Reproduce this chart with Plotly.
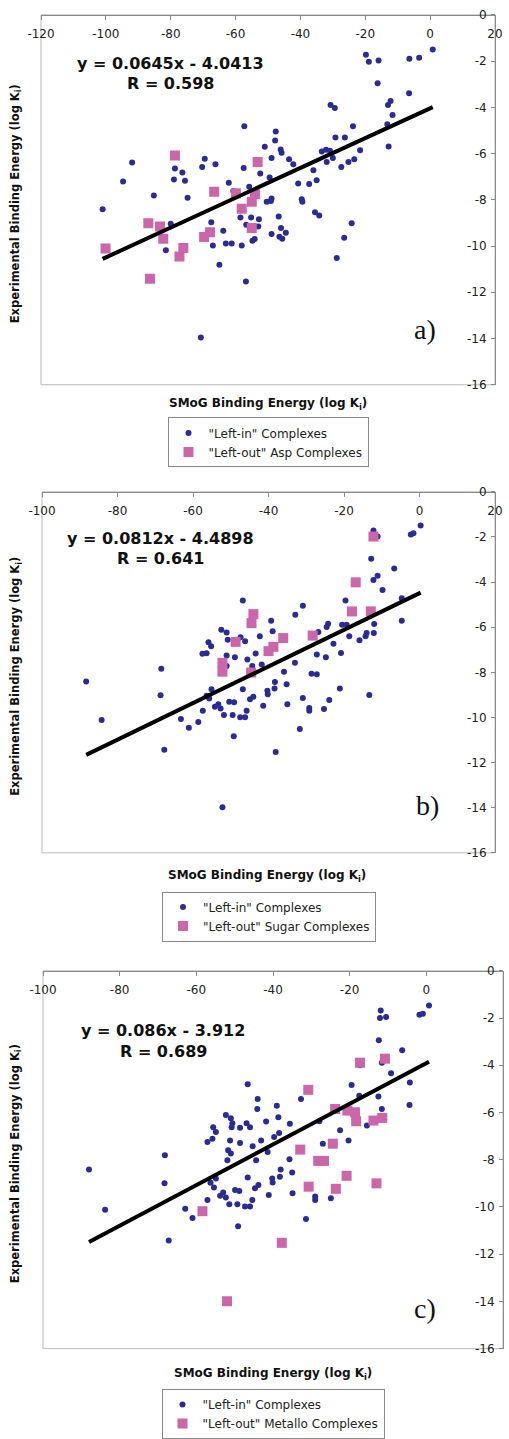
import plotly.graph_objects as go

# ---------------- data ----------------
# Panel a
a_in_x = [0.8, -3.4, -6.4, -19.8, -18.9, -15.9, -16.2, -6.5, -30.7, -29.4, -12.2, -13.0, -11.6, -13.2, -23.8, -12.8,
          -29.2, -26.3, -21.6, -57.3, -47.6, -47.8, -51.0, -46.1, -45.8, -33.4, -32.1, -30.9, -30.0, -31.9, -25.2, -23.4,
          -27.4, -43.5, -42.2, -48.9, -49.5, -52.4, -57.5, -36.0, -35.0, -37.3, -40.7, -62.1, -55.8, -69.5, -66.2, -70.3,
          -78.7, -76.4, -79.0, -75.6, -91.9, -94.7, -85.2, -74.8, -60.7, -48.9, -39.6,
          -101.0, -80.0, -81.5, -67.5, -67.0, -63.8, -63.0, -61.2, -65.0, -58.1, -58.5, -56.7, -55.2, -52.8, -53.0, -54.8,
          -54.1, -56.8, -70.7, -46.7, -48.9, -46.0, -45.6, -44.5, -46.5, -50.4, -49.1, -39.4, -35.5, -34.2, -24.2, -26.5, -28.8]
a_in_y = [-1.50, -1.86, -1.90, -1.72, -2.03, -1.97, -2.96, -3.39, -3.90, -4.03, -3.73, -3.90, -4.33, -4.73, -4.82, -5.69,
          -5.30, -5.30, -5.86, -4.82, -5.05, -5.43, -5.71, -5.82, -5.96, -5.91, -5.83, -5.88, -6.19, -6.36, -6.36, -6.25,
          -6.58, -6.25, -6.46, -6.19, -7.04, -6.86, -6.62, -6.72, -7.15, -7.32, -7.29, -7.26, -7.43, -6.22, -6.46, -6.58,
          -6.65, -6.82, -7.12, -7.18, -6.39, -7.21, -7.81, -7.91, -7.62, -7.94, -7.98,
          -8.41, -9.04, -10.18, -8.97, -9.98, -9.34, -9.89, -9.89, -10.81, -9.98, -8.77, -9.08, -8.77, -8.84, -9.15, -9.77,
          -9.70, -11.53, -13.96, -8.72, -9.48, -9.22, -9.68, -9.42, -9.60, -8.08, -8.05, -8.08, -8.54, -8.68, -9.01, -9.64, -10.52]
a_out_x = [-78.7, -53.2, -66.6, -59.9, -54.0, -100.1, -86.9, -83.3, -82.3, -86.4, -76.1, -77.3, -69.7, -67.9, -58.1, -55.0, -55.0]
a_out_y = [-6.08, -6.36, -7.65, -7.72, -7.76, -10.11, -9.01, -9.15, -9.68, -11.41, -10.08, -10.45, -9.61, -9.40, -8.39, -8.08, -9.22]

# Panel b
b_in_x = [0.3, -2.3, -1.6, -12.2, -11.1, -12.8, -6.7, -11.1, -12.2, -9.8, -4.7, -4.7, -19.6, -12.0, -20.5, -19.3, -24.2,
          -24.6, -18.6, -15.9, -14.0, -12.1, -14.3, -22.8, -26.8, -32.9, -30.9, -46.8, -39.3, -38.9, -42.3, -52.5, -51.1,
          -50.8, -47.4, -46.2, -55.9, -55.2, -57.5, -56.4, -51.1, -43.4, -27.2, -20.8,
          -88.3, -84.2, -68.4, -68.6, -67.6, -63.2, -61.1, -58.6, -57.4, -56.4, -55.7, -55.1, -54.2, -53.3, -52.7, -51.8,
          -52.2, -49.5, -50.4, -49.1, -49.2, -47.5, -46.2, -45.8, -46.8, -44.9, -44.0, -41.4, -40.3, -40.2, -38.4, -38.3,
          -35.2, -35.0, -35.9, -33.0, -38.1, -30.9, -31.7, -29.2, -29.2, -28.6, -27.2, -24.8, -21.1, -25.3, -23.9, -13.3,
          -45.6, -44.3, -41.8, -48.9, -51.1]
b_in_y = [-1.49, -1.89, -1.83, -1.71, -1.98, -2.96, -3.40, -3.72, -3.91, -4.35, -4.72, -5.71, -4.82, -5.86, -5.89, -5.89, -5.85,
          -5.99, -6.40, -6.58, -6.26, -6.26, -6.40, -6.73, -6.21, -5.45, -5.05, -4.82, -5.71, -6.18, -6.40, -6.11, -6.23,
          -6.55, -6.45, -6.62, -6.67, -6.84, -7.18, -7.15, -7.25, -7.16, -7.21, -7.14,
          -8.41, -10.11, -7.84, -9.01, -11.43, -10.07, -10.46, -10.20, -9.70, -9.04, -9.16, -8.75, -9.52, -9.41, -9.60, -9.89,
          -13.98, -9.89, -9.30, -9.33, -10.83, -9.99, -9.99, -9.70, -8.75, -9.19, -9.08, -9.48, -8.82, -8.97, -8.72, -8.43,
          -8.53, -9.41, -7.97, -7.58, -11.53, -9.14, -10.51, -9.58, -9.70, -8.06, -8.09, -7.33, -8.72, -9.63, -9.23, -9.00,
          -7.43, -7.72, -7.65, -7.33, -7.72]
b_out_x = [-12.2, -16.9, -17.9, -12.9, -44.0, -44.5, -48.7, -36.1, -28.3, -38.7, -40.0, -52.2, -52.2, -44.6]
b_out_y = [-1.98, -4.01, -5.30, -5.30, -5.42, -5.82, -6.65, -6.48, -6.37, -6.87, -7.06, -7.58, -7.97, -8.01]

# Panel c
c_in_x = [0.7, -1.8, -0.9, -11.9, -12.1, -10.5, -12.4, -6.3, -11.6, -9.2, -4.3, -4.4, -19.5, -17.5, -12.5, -11.6, -22.5,
          -15.5, -17.3, -32.7, -35.6, -39.0, -38.6, -41.8, -44.0, -44.1, -46.6, -46.9, -46.0, -48.6, -52.3, -51.0, -50.6,
          -50.8, -55.6, -27.9,
          -88.0, -83.8, -68.2, -68.3, -67.2, -62.9, -61.0, -57.1, -56.3, -55.4, -54.9, -53.8, -53.0, -52.3, -51.4, -49.3,
          -49.1, -49.9, -48.8, -46.6, -47.3, -46.0, -45.4, -44.7, -43.8, -41.1, -40.2, -40.1, -38.2, -38.0, -35.0, -34.9,
          -35.7, -31.4, -29.0, -29.0, -24.9, -27.0, -20.3, -51.9, -51.7, -51.0, -51.2, -48.6, -45.3, -44.4, -43.1, -41.4,
          -39.7, -38.4, -57.1, -55.8, -54.9]
c_in_y = [-1.47, -1.86, -1.82, -1.68, -2.00, -1.96, -2.94, -3.36, -3.89, -4.34, -4.73, -5.68, -4.83, -5.29, -5.32, -5.85, -6.75,
          -6.55, -4.00, -5.43, -6.48, -5.71, -6.20, -6.38, -5.43, -5.85, -4.80, -6.45, -6.62, -6.65, -6.10, -6.24, -6.45,
          -6.62, -6.62, -6.37,
          -8.41, -10.12, -7.81, -9.00, -11.42, -10.08, -10.47, -9.70, -8.97, -9.17, -8.79, -9.52, -9.39, -9.60, -9.88, -9.88,
          -10.82, -9.28, -9.32, -8.75, -9.98, -9.98, -9.70, -9.21, -9.07, -9.49, -8.79, -8.96, -8.72, -8.41, -8.54, -9.42,
          -7.98, -10.51, -9.56, -9.70, -9.63, -7.32, -7.18, -8.02, -7.60, -7.74, -7.18, -7.29, -7.43, -8.02, -7.18, -7.67,
          -7.04, -6.87, -7.25, -7.11, -6.83]
c_out_x = [-17.3, -10.8, -30.8, -23.8, -20.6, -18.6, -18.3, -13.8, -11.5, -32.9, -24.4, -28.2, -26.7, -20.8, -30.7, -23.6,
           -13.0, -58.4, -37.7, -52.0]
c_out_y = [-3.89, -3.72, -5.04, -5.85, -5.92, -5.99, -6.37, -6.34, -6.23, -7.57, -7.32, -8.05, -8.05, -8.68, -9.14, -9.23,
           -9.00, -10.18, -11.52, -13.99]

# trend lines (slope, intercept, x extent)
slopes = [0.0645, 0.0812, 0.086]
intercepts = [-4.0413, -4.4898, -3.912]
trend_x = [[-101.0, 0.8], [-88.3, 0.3], [-88.0, 0.7]]
eq_text = ["y = 0.0645x - 4.0413", "y = 0.0812x - 4.4898", "y = 0.086x - 3.912"]
r_text = ["R = 0.598", "R = 0.641", "R = 0.689"]
panel_labels = ["a)", "b)", "c)"]
out_names = ['"Left-out" Asp Complexes', '"Left-out" Sugar Complexes', '"Left-out" Metallo Complexes']
in_name = '"Left-in" Complexes'

x_mins = [-120, -100, -100]
x_ticks = [[-120, -100, -80, -60, -40, -20, 0, 20], [-100, -80, -60, -40, -20, 0, 20], [-100, -80, -60, -40, -20, 0, 20]]
y_ticks = [0, -2, -4, -6, -8, -10, -12, -14, -16]

# ---------------- layout geometry (pixels) ----------------
W, H = 509, 1439
plot_box = [(41, 495, 15, 388), (42, 495, 496, 860), (43, 503, 979, 1360)]  # left,right,top,bottom
eq_pos = [(170, 64, 84), (160, 543, 563), (163, 1039, 1060)]
lab_pos = [(425, 332), (427, 812), (425, 1319)]
xt_pos = [(268, 407), (267, 883), (273, 1386)]
leg_pos = [(268, 421), (269, 899), (273, 1401)]
ytitle_x = 6

BLUE = "#2B2B96"
PINK = "#CC66AA"
FONT = "DejaVu Sans"
AXC = "#8a8a8a"

fig = go.Figure()
ins = [(a_in_x, a_in_y), (b_in_x, b_in_y), (c_in_x, c_in_y)]
outs = [(a_out_x, a_out_y), (b_out_x, b_out_y), (c_out_x, c_out_y)]

layout = dict(width=W, height=H, margin=dict(l=0, r=0, t=0, b=0),
              paper_bgcolor="white", plot_bgcolor="white",
              font=dict(family=FONT, size=12, color="#222"))
annotations = []
shapes = []

for i in range(3):
    sfx = "" if i == 0 else str(i + 1)
    xa, ya = "x" + sfx, "y" + sfx
    leg = "legend" + sfx
    l, r, t, b = plot_box[i]
    # x axis: line at the top of the plot (y = 0), labels hanging below it
    layout["xaxis" + sfx] = dict(
        domain=[l / W, r / W], range=[x_mins[i], 20], autorange=False,
        anchor="free", position=1 - t / H, side="bottom",
        tickvals=x_ticks[i], ticktext=[str(v) for v in x_ticks[i]],
        showgrid=False, zeroline=False, showline=True, linecolor=AXC, linewidth=1,
        ticks="outside", ticklen=4, tickcolor=AXC, ticklabelstandoff=4,
        tickfont=dict(family=FONT, size=12, color="#222"), fixedrange=True, automargin=False)
    # y axis: line at the right of the plot (x = 20), labels to its left
    layout["yaxis" + sfx] = dict(
        domain=[1 - b / H, 1 - t / H], range=[-16, 0], autorange=False,
        anchor="free", position=r / W, side="left",
        tickvals=y_ticks, ticktext=[str(v) for v in y_ticks],
        showgrid=False, zeroline=False, showline=True, linecolor=AXC, linewidth=1,
        ticks="outside", ticklen=4, tickcolor=AXC, ticklabelstandoff=2,
        tickfont=dict(family=FONT, size=12, color="#222"), fixedrange=True, automargin=False)
    shapes.append(dict(type="rect", xref=xa + " domain", yref=ya + " domain", x0=0, x1=1, y0=0, y1=1,
                       line=dict(color="#b8b8b8", width=1), layer="below"))

    fig.add_trace(go.Scatter(x=ins[i][0], y=ins[i][1], mode="markers", name=in_name,
                             marker=dict(symbol="circle", size=6, color=BLUE),
                             xaxis=xa, yaxis=ya, legend=leg))
    fig.add_trace(go.Scatter(x=outs[i][0], y=outs[i][1], mode="markers", name=out_names[i],
                             marker=dict(symbol="square", size=10, color=PINK),
                             xaxis=xa, yaxis=ya, legend=leg))
    tx = trend_x[i]
    ty = [slopes[i] * v + intercepts[i] for v in tx]
    fig.add_trace(go.Scatter(x=tx, y=ty, mode="lines", line=dict(color="black", width=4),
                             showlegend=False, hoverinfo="skip", xaxis=xa, yaxis=ya))

    lx, ly = leg_pos[i]
    layout[leg] = dict(x=lx / W, xanchor="center", y=1 - ly / H, yanchor="top",
                       bordercolor=AXC, borderwidth=1, bgcolor="white",
                       font=dict(family=FONT, size=12, color="#222"), tracegroupgap=0,
                       itemwidth=30)

    ex, ey1, ey2 = eq_pos[i]
    annotations.append(dict(x=ex / W, y=1 - ey1 / H, xref="paper", yref="paper", showarrow=False,
                            text="<b>" + eq_text[i] + "</b>", font=dict(family=FONT, size=16, color="#111"),
                            xanchor="center", yanchor="middle"))
    annotations.append(dict(x=ex / W, y=1 - ey2 / H, xref="paper", yref="paper", showarrow=False,
                            text="<b>" + r_text[i] + "</b>", font=dict(family=FONT, size=16, color="#111"),
                            xanchor="center", yanchor="middle"))
    px_, py_ = lab_pos[i]
    annotations.append(dict(x=px_ / W, y=1 - py_ / H, xref="paper", yref="paper", showarrow=False,
                            text=panel_labels[i], font=dict(family="Liberation Serif", size=28, color="#111"),
                            xanchor="center", yanchor="middle"))
    tx_, ty_ = xt_pos[i]
    annotations.append(dict(x=tx_ / W, y=1 - ty_ / H, xref="paper", yref="paper", showarrow=False,
                            text="<b>SMoG Binding Energy (log K<sub>i</sub>)</b>",
                            font=dict(family=FONT, size=12, color="#111"), xanchor="center", yanchor="middle"))
    annotations.append(dict(x=ytitle_x / W, y=1 - ((t + b) / 2 + 4) / H, xref="paper", yref="paper", showarrow=False,
                            text="<b>Experimental Binding Energy (log K<sub>i</sub>)</b>", textangle=-90,
                            font=dict(family=FONT, size=11.5, color="#111"), xanchor="left", yanchor="middle"))

layout["annotations"] = annotations
layout["shapes"] = shapes
fig.update_layout(**layout)
fig.write_html("out.html")
